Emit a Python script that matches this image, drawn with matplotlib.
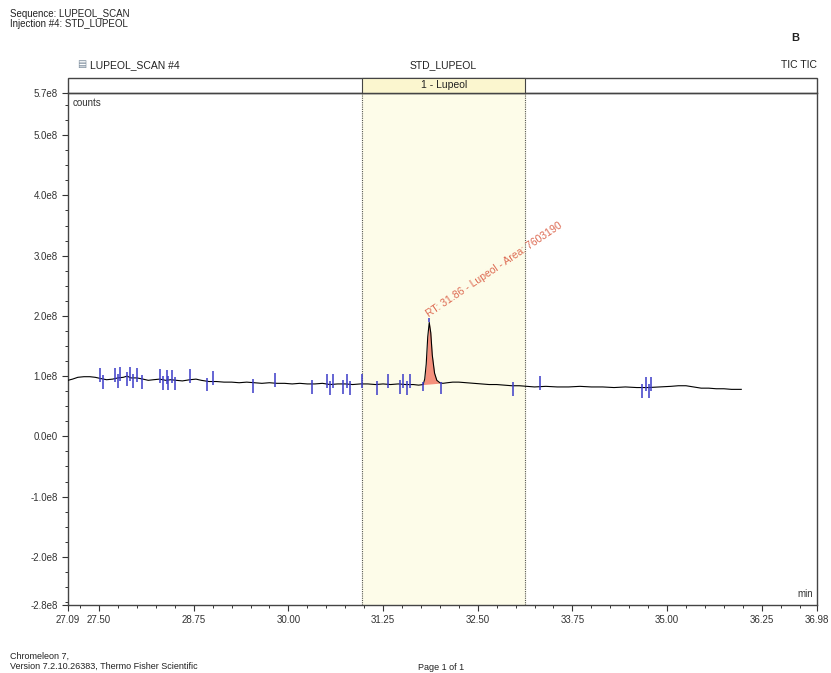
import numpy as np
import matplotlib.pyplot as plt
from matplotlib.patches import Rectangle
from matplotlib.ticker import FixedLocator, MultipleLocator
import matplotlib.transforms as mtransforms

plt.rcParams['font.family'] = ['Liberation Sans', 'DejaVu Sans']

# TIC trace (retention time in min, signal in 1e8 counts)
rt = [27.09, 27.15, 27.22, 27.30, 27.38, 27.45, 27.52, 27.60, 27.68, 27.75,
      27.82, 27.87, 27.92, 28.00, 28.08, 28.15, 28.22, 28.30, 28.38, 28.45,
      28.52, 28.60, 28.70, 28.78, 28.85, 28.95, 29.05, 29.15, 29.25, 29.35,
      29.45, 29.55, 29.65, 29.75, 29.85, 29.95, 30.05, 30.15, 30.25, 30.35,
      30.45, 30.55, 30.65, 30.75, 30.85, 30.95, 31.05, 31.15, 31.25, 31.35,
      31.45, 31.55, 31.65, 31.72, 31.78, 31.80, 31.82, 31.84, 31.86, 31.88,
      31.90, 31.93, 31.96, 32.00, 32.04, 32.10, 32.17, 32.25, 32.35, 32.45,
      32.55, 32.65, 32.75, 32.85, 32.95, 33.05, 33.15, 33.25, 33.40, 33.55,
      33.70, 33.85, 34.00, 34.15, 34.30, 34.45, 34.60, 34.75, 34.90, 35.05,
      35.15, 35.25, 35.35, 35.45, 35.55, 35.65, 35.75, 35.85, 35.98]
tic = [0.93, 0.95, 0.98, 0.99, 0.99, 0.98, 0.96, 0.94, 0.95, 0.97,
       0.98, 1.00, 0.97, 0.97, 0.95, 0.93, 0.94, 0.95, 0.93, 0.94,
       0.93, 0.92, 0.94, 0.95, 0.93, 0.91, 0.91, 0.90, 0.90, 0.89,
       0.90, 0.89, 0.88, 0.89, 0.88, 0.88, 0.87, 0.88, 0.87, 0.87,
       0.88, 0.86, 0.87, 0.87, 0.86, 0.87, 0.87, 0.86, 0.87, 0.86,
       0.87, 0.86, 0.86, 0.85, 0.86, 0.95, 1.20, 1.65, 1.89, 1.72,
       1.35, 1.05, 0.93, 0.89, 0.88, 0.89, 0.90, 0.90, 0.89, 0.88,
       0.87, 0.86, 0.86, 0.85, 0.84, 0.84, 0.83, 0.82, 0.83, 0.82,
       0.82, 0.83, 0.82, 0.82, 0.81, 0.82, 0.81, 0.81, 0.82, 0.83,
       0.84, 0.84, 0.82, 0.80, 0.80, 0.79, 0.79, 0.78, 0.78]

# peak integration window
peak_start, peak_end = 31.78, 32.02
peak_label = 'RT: 31.86 - Lupeol - Area: 7603190'
peak_rt, peak_top = 31.86, 1.89

# detected peak delimiters (blue markers)
marks = [27.51, 27.55, 27.71, 27.75, 27.78, 27.87, 27.91, 27.95, 28.00, 28.07,
         28.30, 28.34, 28.40, 28.41, 28.46, 28.50, 28.70, 28.92, 29.00, 29.53,
         29.82, 30.31, 30.51, 30.55, 30.59, 30.72, 30.77, 30.81, 30.97, 31.17,
         31.31, 31.47, 31.51, 31.56, 31.61, 32.97, 33.32, 34.67, 34.72,
         34.76, 34.79]

# component window
win_start, win_end = 30.97, 33.13

x_major = [27.09, 27.50, 28.75, 30.00, 31.25, 32.50, 33.75, 35.00, 36.25, 36.98]
y_major = [-2.8, -2.0, -1.0, 0.0, 1.0, 2.0, 3.0, 4.0, 5.0, 5.7]
y_labels = ['-2.8e8', '-2.0e8', '-1.0e8', '0.0e0', '1.0e8', '2.0e8',
            '3.0e8', '4.0e8', '5.0e8', '5.7e8']

rt = np.array(rt)
tic = np.array(tic)

fig = plt.figure(figsize=(8.31, 6.73), dpi=100)
ax = fig.add_axes([68 / 831, 1 - 605 / 673, 749 / 831, 512 / 673])
ax.set_xlim(27.09, 36.98)
ax.set_ylim(-2.8, 5.7)

# component window shading
ax.axvspan(win_start, win_end, color='#fdfce9', zorder=0)
for xv in (win_start, win_end):
    ax.axvline(xv, color='#555555', lw=0.8, ls=(0, (1, 1)), zorder=1)

# peak fill
sel = (rt >= peak_start) & (rt <= peak_end)
base = np.interp(rt[sel], [peak_start, peak_end],
                 [np.interp(peak_start, rt, tic), np.interp(peak_end, rt, tic)])
ax.fill_between(rt[sel], base, tic[sel], color='#f4907c', lw=0, zorder=2)

ax.plot(rt, tic, color='black', lw=0.8, zorder=3)

# blue delimiters
for i, m in enumerate(marks):
    b = np.interp(m, rt, tic)
    if i % 2 == 0:
        ax.vlines(m, b - 0.06, b + 0.17, color='#3b3bc8', lw=1.1, zorder=4)
    else:
        ax.vlines(m, b - 0.17, b + 0.06, color='#3b3bc8', lw=1.1, zorder=4)
ax.vlines([peak_start, peak_end], [np.interp(peak_start, rt, tic) - 0.1,
          np.interp(peak_end, rt, tic) - 0.18],
          [np.interp(peak_start, rt, tic) + 0.05, np.interp(peak_end, rt, tic) + 0.02],
          color='#3b3bc8', lw=1.1, zorder=4)
ax.vlines(peak_rt, peak_top, peak_top + 0.08, color='#3b3bc8', lw=1.1, zorder=4)

ax.text(peak_rt + 0.01, peak_top + 0.06, peak_label, rotation=34,
        rotation_mode='anchor', ha='left', va='bottom', fontsize=7.5,
        color='#dd6a52', zorder=5)

# axes styling
ax.xaxis.set_major_locator(FixedLocator(x_major))
ax.set_xticklabels(['%.2f' % v for v in x_major])
ax.xaxis.set_minor_locator(MultipleLocator(0.25))
ax.yaxis.set_major_locator(FixedLocator(y_major))
ax.set_yticklabels(y_labels)
ax.yaxis.set_minor_locator(MultipleLocator(0.25))
ax.tick_params(which='major', length=4, width=0.8, labelsize=7, color='#333333',
               labelcolor='#333333')
ax.tick_params(which='minor', length=2.5, width=0.7, color='#333333')
for s in ax.spines.values():
    s.set_color('#444444')
    s.set_linewidth(1.0)

ax.text(0.006, 0.99, 'counts', transform=ax.transAxes, fontsize=7,
        va='top', ha='left', color='#333333')
ax.text(0.995, 0.012, 'min', transform=ax.transAxes, fontsize=7,
        va='bottom', ha='right', color='#333333')

# header strip above the plot
strip_h = 15 / 512
ax.add_patch(Rectangle((0, 1), 1, strip_h, transform=ax.transAxes,
                       fill=False, ec='#444444', lw=1.0, clip_on=False))
blend = mtransforms.blended_transform_factory(ax.transData, ax.transAxes)
ax.add_patch(Rectangle((win_start, 1), win_end - win_start, strip_h,
                       transform=blend, fc='#fbf6cf', ec='#444444', lw=0.8,
                       clip_on=False))
ax.text((win_start + win_end) / 2, 1 + strip_h / 2, '1 - Lupeol',
        transform=blend, ha='center', va='center', fontsize=7.5, color='#222222')
ax.text(0.03, 1.045, 'LUPEOL_SCAN #4', transform=ax.transAxes, fontsize=7.5,
        ha='left', va='bottom', color='#222222')
ax.text(0.0125, 1.047, '\u25A4', transform=ax.transAxes, fontsize=7,
        ha='left', va='bottom', color='#778899')
ax.text((win_start + win_end) / 2, 1.045, 'STD_LUPEOL', transform=blend,
        fontsize=7.5, ha='center', va='bottom', color='#222222')
ax.text(1.0, 1.045, 'TIC TIC', transform=ax.transAxes, fontsize=7.5,
        ha='right', va='bottom', color='#222222')

# page text
fig.text(10 / 831, 1 - 19 / 673, 'Sequence: LUPEOL_SCAN\nInjection #4: STD_LUPEOL',
         fontsize=7, va='center', ha='left', color='#222222', linespacing=1.05)
fig.text(795 / 831, 1 - 38 / 673, 'B', fontsize=8, fontweight='bold',
         va='center', ha='center', color='#222222')
fig.text(10 / 831, 1 - 661 / 673,
         'Chromeleon 7,\nVersion 7.2.10.26383, Thermo Fisher Scientific',
         fontsize=6.5, va='center', ha='left', color='#222222', linespacing=1.1)
fig.text(418 / 831, 1 - 667 / 673, 'Page 1 of 1', fontsize=6.5,
         va='center', ha='left', color='#222222')

fig.savefig('out.png', dpi=100)
